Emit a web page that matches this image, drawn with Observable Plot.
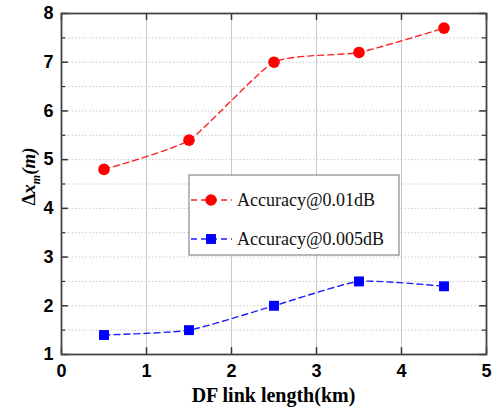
<!DOCTYPE html>
<html><head><meta charset="utf-8">
<script src="https://cdn.jsdelivr.net/npm/d3@7"></script>
<script src="https://cdn.jsdelivr.net/npm/@observablehq/plot@0.6"></script>
<style>body{margin:0;background:#fff}</style>
</head><body><div id="chart"></div>
<script>
const lengths = [0.5, 1.5, 2.5, 3.5, 4.5];
const acc001 = [4.8, 5.4, 7.0, 7.2, 7.7];
const acc0005 = [1.4, 1.5, 2.0, 2.5, 2.4];
const seriesNames = ["Accuracy@0.01dB", "Accuracy@0.005dB"];
const xTicks = [0, 1, 2, 3, 4, 5];
const yTicks = [1, 2, 3, 4, 5, 6, 7, 8];
const yMinor = [1.5, 2.5, 3.5, 4.5, 5.5, 6.5, 7.5];

const red = d3.zip(lengths, acc001).map(([x, y]) => ({x, y}));
const blue = d3.zip(lengths, acc0005).map(([x, y]) => ({x, y}));
const hGrid = [...yTicks.slice(1, -1), ...yMinor];
const vGrid = xTicks.slice(1, -1);
const smooth = d3.curveCardinal.tension(0.45);

const plot = Plot.plot({
  width: 498, height: 413,
  marginLeft: 61, marginRight: 12, marginTop: 13, marginBottom: 59,
  x: {domain: [0, 5]},
  y: {domain: [1, 8]},
  style: {background: "#fff"},
  marks: [
    Plot.ruleY(hGrid, {stroke: "#c8c8c8", strokeDasharray: "1.5,2", strokeWidth: 1}),
    Plot.ruleX(vGrid, {stroke: "#c8c8c8", strokeWidth: 1}),
    Plot.ruleX(xTicks, {y1: 1, y2: 1.14, stroke: "#333", strokeWidth: 1.5}),
    Plot.ruleX(xTicks, {y1: 8, y2: 7.86, stroke: "#333", strokeWidth: 1.5}),
    Plot.ruleY(yTicks, {x1: 0, x2: 0.08, stroke: "#333", strokeWidth: 1.5}),
    Plot.ruleY(yMinor, {x1: 0, x2: 0.05, stroke: "#333", strokeWidth: 1.2}),
    Plot.ruleY(yTicks, {x1: 5, x2: 4.92, stroke: "#333", strokeWidth: 1.5}),
    Plot.ruleY(yMinor, {x1: 5, x2: 4.95, stroke: "#333", strokeWidth: 1.2}),
    Plot.line(red, {x: "x", y: "y", stroke: "#ff2020", strokeWidth: 1.4, strokeDasharray: "6,4", curve: smooth}),
    Plot.line(blue, {x: "x", y: "y", stroke: "#2020ff", strokeWidth: 1.4, strokeDasharray: "6,4", curve: smooth}),
    Plot.dot(red, {x: "x", y: "y", r: 5.8, fill: "#ff0000", stroke: "none", symbol: "circle"}),
    Plot.dot(blue, {x: "x", y: "y", r: 5.6, fill: "#0000ff", stroke: "none", symbol: "square"}),
    Plot.frame({stroke: "#444", strokeWidth: 1.8}),
    Plot.axisX(xTicks, {tickSize: 0, tickPadding: 10, fontSize: 18, fontWeight: "bold", fontFamily: "Liberation Sans", fill: "#000", label: null}),
    Plot.axisY(yTicks, {tickSize: 0, tickPadding: 8, fontSize: 18, fontWeight: "bold", fontFamily: "Liberation Sans", fill: "#000", label: null})
  ]
});
document.getElementById("chart").appendChild(plot);

const svg = d3.select(plot);
const sx = plot.scale("x"), sy = plot.scale("y");
svg.append("text")
  .attr("x", (sx.apply(0) + sx.apply(5)) / 2).attr("y", 402)
  .attr("text-anchor", "middle")
  .attr("font-family", "Liberation Serif").attr("font-weight", "bold").attr("font-size", 20)
  .attr("fill", "#000")
  .text("DF link length(km)");
const yl = svg.append("text")
  .attr("transform", `translate(35,${(sy.apply(1) + sy.apply(8)) / 2 - 7}) rotate(-90)`)
  .attr("text-anchor", "middle")
  .attr("font-family", "Liberation Serif").attr("font-weight", "bold").attr("font-size", 19)
  .attr("fill", "#000");
yl.append("tspan").text("Δ");
yl.append("tspan").attr("font-style", "italic").text("x");
yl.append("tspan").attr("font-style", "italic").attr("font-size", 12).attr("dy", 5).text("m");
yl.append("tspan").attr("font-style", "italic").attr("dy", -5).text("(m)");

const lg = svg.append("g");
lg.append("rect").attr("x", 189).attr("y", 175).attr("width", 210).attr("height", 80)
  .attr("fill", "#fff").attr("stroke", "#888").attr("stroke-width", 1.2);
const rows = [
  {name: seriesNames[0], color: "#ff2020", fill: "#ff0000", sym: d3.symbolCircle, size: Math.PI * 5.8 * 5.8, y: 200},
  {name: seriesNames[1], color: "#2020ff", fill: "#0000ff", sym: d3.symbolSquare, size: Math.PI * 5.6 * 5.6, y: 239}
];
for (const r of rows) {
  lg.append("path").attr("d", `M191,${r.y}H232`).attr("fill", "none")
    .attr("stroke", r.color).attr("stroke-width", 1.4).attr("stroke-dasharray", "6,4");
  lg.append("path").attr("d", d3.symbol(r.sym, r.size)()).attr("transform", `translate(211,${r.y})`)
    .attr("fill", r.fill);
  lg.append("text").attr("x", 237).attr("y", r.y + 6).attr("text-anchor", "start")
    .attr("font-family", "Liberation Serif").attr("font-size", 18).attr("fill", "#111")
    .text(r.name);
}
</script>
</body></html>
